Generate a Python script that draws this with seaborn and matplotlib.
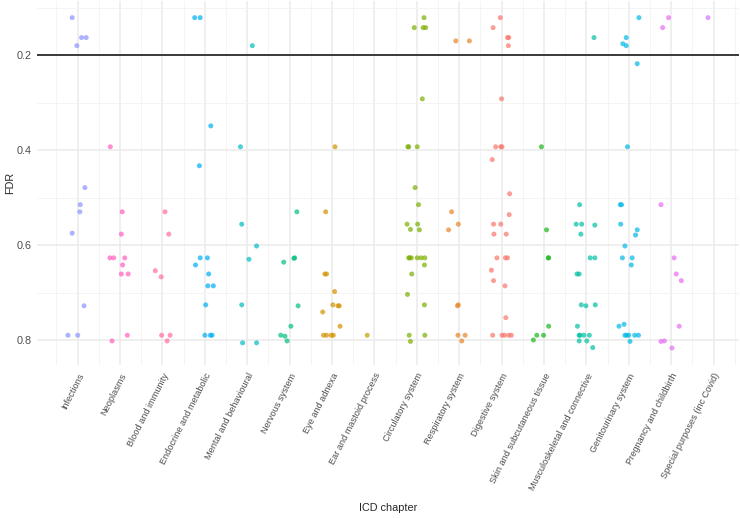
import numpy as np
import pandas as pd
import seaborn as sns
import matplotlib.pyplot as plt

# === Data (FDR per gene/trait, jitter offset) ===
chapters = ["Infections", "Neoplasms", "Blood and immunity", "Endocrine and metabolic",
            "Mental and behavioural", "Nervous system", "Eye and adnexa", "Ear and mastoid process",
            "Circulatory system", "Respiratory system", "Digestive system",
            "Skin and subcutaneous tissue", "Musculoskeletal and connective",
            "Genitourinary system", "Pregnancy and childbirth", "Special purposes (inc Covid)"]

colours = ["#8B93FF", "#FF5FBF", "#FF6C9F", "#00AEF6", "#00BDC4", "#00BF7D", "#D39200",
           "#BFA300", "#7CAE00", "#E88526", "#F8766D", "#1DB51D", "#00BFA4", "#00B8E7",
           "#E76BF3", "#D575FE"]

fdr_infections = [0.121, 0.163, 0.163, 0.180, 0.479, 0.515, 0.530, 0.575, 0.728, 0.790, 0.790]
jit_infections = [-0.13, 0.09, 0.20, -0.02, 0.17, 0.06, 0.05, -0.13, 0.15, -0.23, 0.0]

fdr_neoplasms = [0.393, 0.530, 0.577, 0.627, 0.627, 0.627, 0.642, 0.661, 0.661, 0.790, 0.802]
jit_neoplasms = [-0.23, 0.05, 0.03, -0.24, -0.15, 0.11, 0.06, 0.03, 0.19, 0.17, -0.19]

fdr_blood = [0.530, 0.577, 0.654, 0.667, 0.790, 0.790, 0.802]
jit_blood = [0.06, 0.15, -0.17, -0.03, -0.02, 0.18, 0.11]

fdr_endocrine = [0.121, 0.121, 0.349, 0.433, 0.627, 0.627, 0.642, 0.661, 0.686, 0.686,
                 0.726, 0.790, 0.790, 0.790]
jit_endocrine = [-0.24, -0.11, 0.14, -0.13, -0.11, 0.06, -0.22, 0.09, 0.07, 0.20,
                 0.02, 0.0, 0.13, 0.17]

fdr_mental = [0.180, 0.393, 0.556, 0.602, 0.630, 0.726, 0.806, 0.806]
jit_mental = [0.12, -0.16, -0.13, 0.22, 0.04, -0.13, -0.11, 0.22]

fdr_nervous = [0.530, 0.627, 0.628, 0.636, 0.728, 0.771, 0.790, 0.792, 0.802]
jit_nervous = [0.17, 0.12, 0.10, -0.14, 0.20, 0.03, -0.21, -0.11, -0.06]

fdr_eye = [0.393, 0.530, 0.661, 0.661, 0.698, 0.726, 0.728, 0.728, 0.741, 0.771,
           0.790, 0.790, 0.790, 0.790]
jit_eye = [0.07, -0.15, -0.17, -0.13, 0.06, 0.02, 0.14, 0.17, -0.22, 0.19,
           -0.20, -0.13, -0.02, 0.03]

fdr_ear = [0.790]
jit_ear = [-0.17]

fdr_circulatory = [0.121, 0.142, 0.142, 0.142, 0.292, 0.393, 0.393, 0.393, 0.479, 0.515,
                   0.556, 0.556, 0.567, 0.568, 0.627, 0.627, 0.627, 0.627, 0.627, 0.627,
                   0.642, 0.661, 0.704, 0.726, 0.790, 0.790, 0.803]
jit_circulatory = [0.17, -0.06, 0.15, 0.21, 0.13, -0.21, -0.19, 0.01, -0.04, 0.04,
                   -0.23, 0.02, -0.15, 0.06, -0.19, -0.17, -0.13, 0.01, 0.10, 0.19,
                   0.18, -0.12, -0.22, 0.18, -0.18, 0.19, -0.15]

fdr_respiratory = [0.170, 0.170, 0.530, 0.556, 0.568, 0.728, 0.726, 0.790, 0.790, 0.802]
jit_respiratory = [-0.08, 0.24, -0.18, -0.02, -0.25, -0.04, -0.02, -0.03, 0.14, 0.06]

fdr_digestive = [0.121, 0.142, 0.163, 0.163, 0.180, 0.292, 0.393, 0.393, 0.393, 0.420,
                 0.492, 0.536, 0.556, 0.556, 0.577, 0.577, 0.627, 0.627, 0.627, 0.653,
                 0.675, 0.686, 0.753, 0.790, 0.790, 0.790, 0.790, 0.790]
jit_digestive = [-0.03, -0.20, 0.14, 0.17, 0.16, 0.0, -0.14, -0.02, 0.01, -0.22,
                 0.19, 0.18, -0.19, -0.02, -0.18, 0.11, -0.11, 0.09, 0.14, -0.24,
                 -0.19, 0.08, 0.10, -0.21, 0.01, 0.07, 0.17, 0.23]

fdr_skin = [0.393, 0.568, 0.627, 0.627, 0.771, 0.790, 0.790, 0.800]
jit_skin = [-0.06, 0.06, 0.10, 0.11, 0.11, -0.01, -0.17, -0.25]

fdr_musculo = [0.163, 0.515, 0.556, 0.556, 0.558, 0.577, 0.627, 0.627, 0.661, 0.661,
               0.726, 0.728, 0.726, 0.771, 0.790, 0.790, 0.790, 0.790, 0.802, 0.802, 0.816]
jit_musculo = [0.18, -0.16, -0.24, -0.11, 0.20, -0.13, 0.09, 0.20, -0.22, -0.17,
               -0.12, -0.01, 0.21, -0.21, -0.17, -0.15, -0.06, 0.07, -0.17, 0.01, 0.15]

fdr_genito = [0.121, 0.163, 0.176, 0.180, 0.218, 0.393, 0.515, 0.515, 0.556, 0.568,
              0.579, 0.602, 0.627, 0.627, 0.642, 0.771, 0.767, 0.790, 0.790, 0.790,
              0.790, 0.790, 0.803]
jit_genito = [0.24, -0.06, -0.14, -0.06, 0.20, -0.03, -0.20, -0.17, -0.19, 0.20,
              0.16, -0.09, -0.15, 0.08, 0.06, -0.23, -0.11, -0.09, -0.05, 0.0,
              0.14, 0.23, 0.03]

fdr_pregnancy = [0.121, 0.142, 0.515, 0.627, 0.661, 0.675, 0.771, 0.803, 0.802, 0.817]
jit_pregnancy = [-0.06, -0.20, -0.24, 0.07, 0.12, 0.24, 0.19, -0.24, -0.16, 0.02]

fdr_special = [0.121]
jit_special = [-0.13]

fdr_lists = [fdr_infections, fdr_neoplasms, fdr_blood, fdr_endocrine, fdr_mental, fdr_nervous,
             fdr_eye, fdr_ear, fdr_circulatory, fdr_respiratory, fdr_digestive, fdr_skin,
             fdr_musculo, fdr_genito, fdr_pregnancy, fdr_special]
jit_lists = [jit_infections, jit_neoplasms, jit_blood, jit_endocrine, jit_mental, jit_nervous,
             jit_eye, jit_ear, jit_circulatory, jit_respiratory, jit_digestive, jit_skin,
             jit_musculo, jit_genito, jit_pregnancy, jit_special]

rows = []
for i, (ch, fdrs, jits) in enumerate(zip(chapters, fdr_lists, jit_lists)):
    for f, j in zip(fdrs, jits):
        rows.append({"chapter": ch, "pos": i + 1 + j, "FDR": f})
df = pd.DataFrame(rows)

# === Plot ===
sns.set_style("white")
plt.rcParams["font.family"] = ["Liberation Sans", "DejaVu Sans"]

fig = plt.figure(figsize=(7.4, 5.18), dpi=100)
ax = fig.add_axes([0.05, 0.296, 0.9486, 0.702])

sns.scatterplot(data=df, x="pos", y="FDR", hue="chapter", hue_order=chapters,
                palette=colours, s=13, alpha=0.7, linewidth=0, legend=False, ax=ax, zorder=3)

ax.axhline(0.2, color="#3a3a3a", lw=1.4, zorder=4)

ax.set_xlim(0.04, 16.6)
ax.set_ylim(0.852, 0.086)

ax.set_xticks(range(1, 17))
ax.set_xticklabels(chapters, rotation=63, ha="right", va="top", rotation_mode="anchor",
                   fontsize=6.6, color="#4D4D4D")
ax.set_xticks(np.arange(0.5, 17, 1), minor=True)
ax.set_yticks([0.2, 0.4, 0.6, 0.8])
ax.set_yticklabels(["0.2", "0.4", "0.6", "0.8"], fontsize=7.8, color="#4D4D4D")
ax.set_yticks([0.1, 0.3, 0.5, 0.7], minor=True)

ax.grid(which="major", color="#EBEBEB", lw=1.1, zorder=0)
ax.grid(which="minor", color="#F2F2F2", lw=0.6, zorder=0)
ax.set_axisbelow(True)
ax.tick_params(which="both", length=0)
ax.tick_params(axis="y", pad=4)
ax.tick_params(axis="x", pad=5)
for s in ax.spines.values():
    s.set_visible(False)

ax.set_xlabel("ICD chapter", fontsize=7.8, labelpad=8)
ax.set_ylabel("FDR", fontsize=7.8, labelpad=1)

fig.savefig("out.png", dpi=100)
